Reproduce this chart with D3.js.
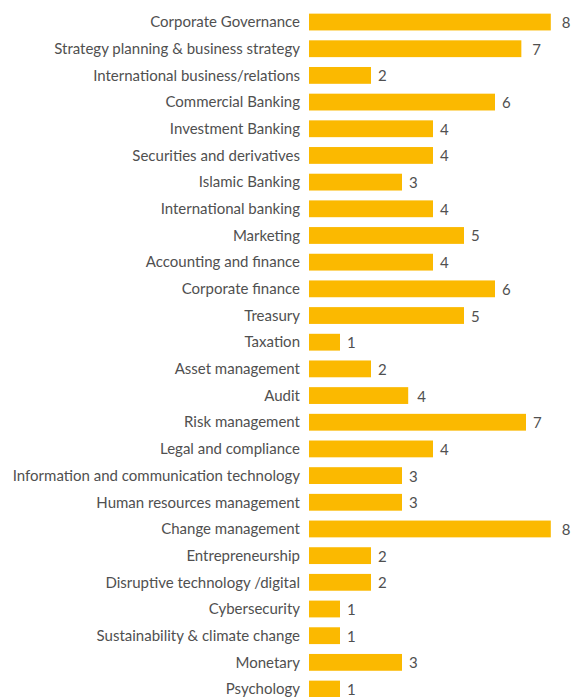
<!DOCTYPE html>
<html>
<head>
<meta charset="utf-8">
<script src="https://cdn.jsdelivr.net/npm/d3@7"></script>
<style>
  body { margin: 0; background: #fff; }
</style>
</head>
<body>
<div id="chart"></div>
<script>
const categories = [
    "Corporate Governance",
    "Strategy planning & business strategy",
    "International business/relations",
    "Commercial Banking",
    "Investment Banking",
    "Securities and derivatives",
    "Islamic Banking",
    "International banking",
    "Marketing",
    "Accounting and finance",
    "Corporate finance",
    "Treasury",
    "Taxation",
    "Asset management",
    "Audit",
    "Risk management",
    "Legal and compliance",
    "Information and communication technology",
    "Human resources management",
    "Change management",
    "Entrepreneurship",
    "Disruptive technology /digital",
    "Cybersecurity",
    "Sustainability & climate change",
    "Monetary",
    "Psychology"
];
// printed labels
const counts = [8, 7, 2, 6, 4, 4, 3, 4, 5, 4, 6, 5, 1, 2, 4, 7, 4, 3, 3, 8, 2, 2, 1, 1, 3, 1];
// bar lengths as drawn in the source (a few don't quite match their label)
const bar_lengths = [7.8, 6.85, 2, 6, 4, 4, 3, 4, 5, 4, 6, 5, 1, 2, 3.2, 7, 4, 3, 3, 7.8, 2, 2, 1, 1, 3, 1];

let width = 575, height = 697;
let bar_left = 309, bar_right = 557;
let text_color = "#505050";
let bar_color = "#fbb900";

let svg = d3.select("#chart")
    .append("svg")
    .attr("width", width)
    .attr("height", height);

let x = d3.scaleLinear()
    .domain([0, 8])
    .range([bar_left, bar_right]);

// step ~26.7px, bars ~17px tall
let y = d3.scaleBand()
    .domain(categories)
    .range([8.7, 8.7 + 26.68 * categories.length])
    .paddingInner(0.37)
    .paddingOuter(0.185);

let rows = svg.selectAll(".row")
    .data(categories.map((c, i) => ({ name: c, value: counts[i], len: bar_lengths[i] })))
    .enter()
    .append("g")
    .attr("class", "row");

rows.append("rect")
    .attr("x", x(0))
    .attr("y", d => y(d.name))
    .attr("width", d => x(d.len) - x(0))
    .attr("height", y.bandwidth())
    .attr("fill", bar_color);

// category names, right aligned next to the bars
rows.append("text")
    .text(d => d.name)
    .attr("x", bar_left - 9)
    .attr("y", d => y(d.name) + y.bandwidth() / 2)
    .attr("dy", "0.35em")
    .style("text-anchor", "end")
    .style("font-family", "Lato")
    .style("font-size", "15px")
    .style("fill", text_color);

// value labels
rows.append("text")
    .text(d => d.value)
    .attr("x", d => x(d.len) + (d.value > d.len + 0.5 ? 9 : 7) + (d.value >= 7 && d.len < d.value ? 4 : 0))
    .attr("y", d => y(d.name) + y.bandwidth() / 2)
    .attr("dy", "0.4em")
    .style("font-family", "Lato")
    .style("font-size", "15px")
    .style("fill", text_color);
</script>
</body>
</html>
